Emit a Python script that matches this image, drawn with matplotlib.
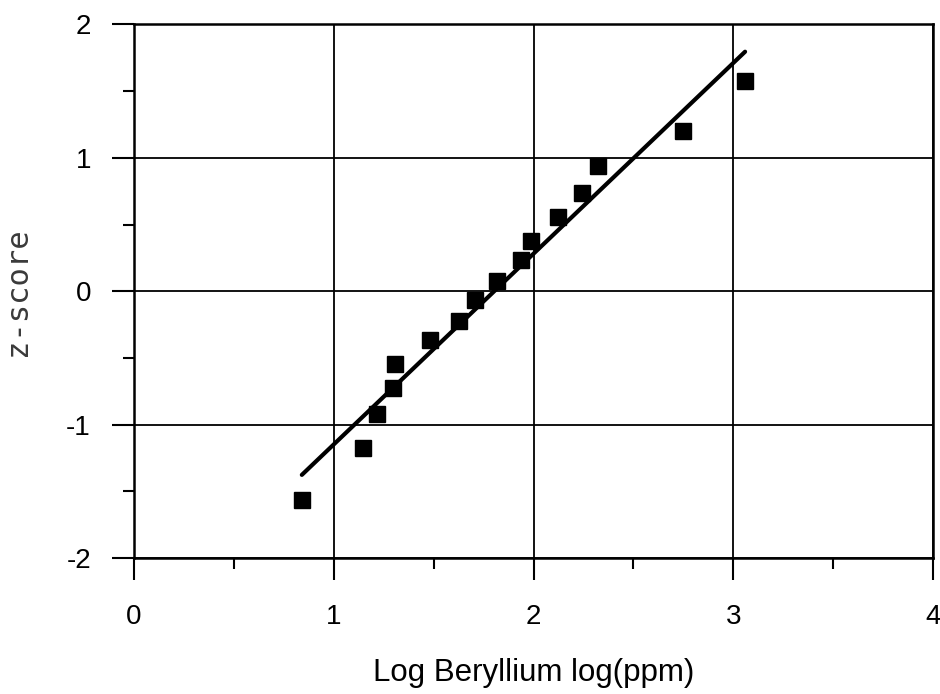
import matplotlib
matplotlib.use('Agg')
import matplotlib.pyplot as plt
from matplotlib.ticker import MultipleLocator

# log beryllium vs z-score (normal probability plot)
log_be = [0.840, 1.145, 1.217, 1.295, 1.307, 1.482, 1.627, 1.707, 1.816,
          1.936, 1.986, 2.123, 2.241, 2.321, 2.747, 3.057]
z_score = [-1.565, -1.176, -0.917, -0.723, -0.545, -0.365, -0.220, -0.066, 0.077,
           0.234, 0.377, 0.555, 0.739, 0.941, 1.204, 1.578]

# fitted line end points
fit_x = [0.840, 3.059]
fit_y = [-1.377, 1.796]

plt.rcParams['font.family'] = ['Liberation Sans', 'DejaVu Sans']
plt.rcParams['axes.unicode_minus'] = False

fig = plt.figure(figsize=(9.4, 6.94), dpi=100)
ax = fig.add_axes([0.1426, 0.196, 0.85, 0.7687])

ax.plot(fit_x, fit_y, color='black', lw=3, solid_capstyle='round', zorder=3)
ax.plot(log_be, z_score, 's', color='black', markersize=11.5, zorder=4)

ax.set_xlim(0, 4)
ax.set_ylim(-2, 2)
ax.xaxis.set_major_locator(MultipleLocator(1))
ax.xaxis.set_minor_locator(MultipleLocator(0.5))
ax.yaxis.set_major_locator(MultipleLocator(1))
ax.yaxis.set_minor_locator(MultipleLocator(0.5))
ax.grid(True, which='major', color='black', lw=1.3)
ax.set_axisbelow(True)

for s in ax.spines.values():
    s.set_linewidth(1.8)

ax.tick_params(which='major', direction='out', length=16, width=1.5,
               labelsize=20)
ax.tick_params(axis='x', which='major', pad=17)
ax.tick_params(axis='y', which='major', pad=15)
ax.tick_params(which='minor', direction='out', length=8, width=1.5)

ax.set_xlabel('Log Beryllium log(ppm)', fontsize=22.5, labelpad=20)
ax.set_ylabel('z-score', fontsize=22, color='#3a3a3a',
              family=['DejaVu Sans Mono'], labelpad=25)

fig.savefig('out.png', dpi=100)
